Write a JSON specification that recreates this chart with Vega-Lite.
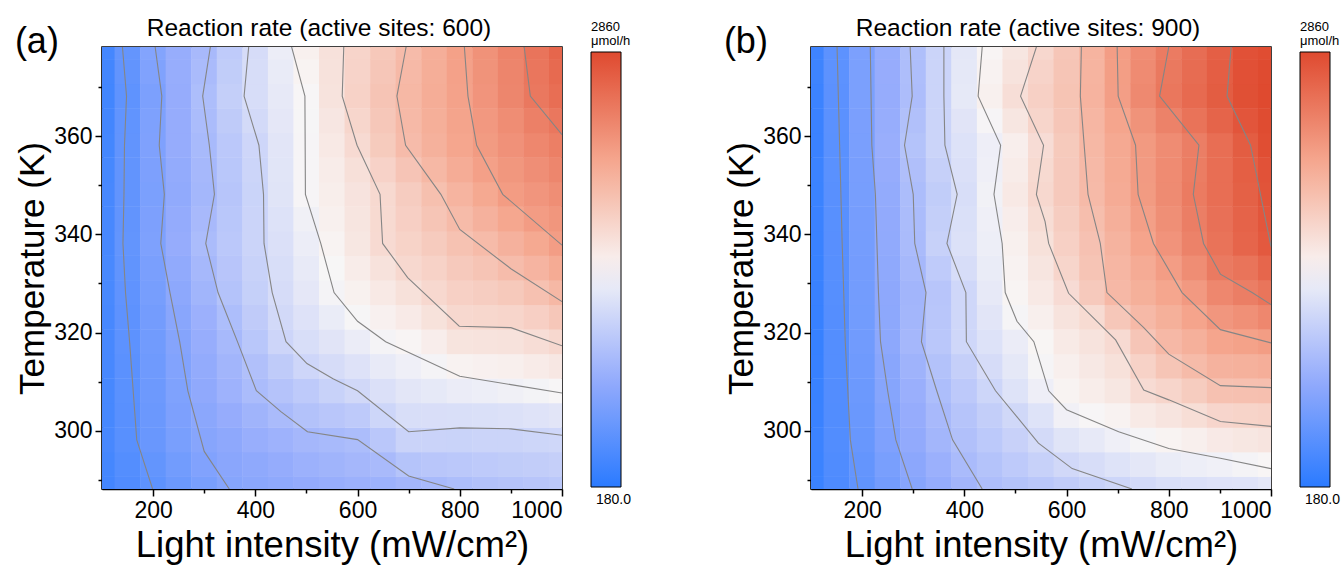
{
  "$schema": "https://vega.github.io/schema/vega-lite/v6.json",
  "padding": {"left": 14, "top": 14, "right": 0, "bottom": 0},
  "background": "white",
  "datasets": {
    "gridA": [
      {"x":100,"T":288.15,"r":335},{"x":100,"T":293.15,"r":344},{"x":100,"T":298.15,"r":361},{"x":100,"T":303.15,"r":355},{"x":100,"T":308.15,"r":357},{"x":100,"T":313.15,"r":360},{"x":100,"T":318.15,"r":362},{"x":100,"T":323.15,"r":364},{"x":100,"T":328.15,"r":368},{"x":100,"T":333.15,"r":365},{"x":100,"T":338.15,"r":361},{"x":100,"T":343.15,"r":362},{"x":100,"T":348.15,"r":364},{"x":100,"T":353.15,"r":352},{"x":100,"T":358.15,"r":338},{"x":100,"T":363.15,"r":331},{"x":100,"T":368.15,"r":326},{"x":100,"T":373.15,"r":333},{"x":100,"T":378.15,"r":344},
      {"x":150,"T":288.15,"r":418},{"x":150,"T":293.15,"r":437},{"x":150,"T":298.15,"r":463},{"x":150,"T":303.15,"r":467},{"x":150,"T":308.15,"r":474},{"x":150,"T":313.15,"r":482},{"x":150,"T":318.15,"r":490},{"x":150,"T":323.15,"r":500},{"x":150,"T":328.15,"r":511},{"x":150,"T":333.15,"r":520},{"x":150,"T":338.15,"r":530},{"x":150,"T":343.15,"r":526},{"x":150,"T":348.15,"r":522},{"x":150,"T":353.15,"r":522},{"x":150,"T":358.15,"r":522},{"x":150,"T":363.15,"r":515},{"x":150,"T":368.15,"r":507},{"x":150,"T":373.15,"r":523},{"x":150,"T":378.15,"r":539},
      {"x":200,"T":288.15,"r":502},{"x":200,"T":293.15,"r":531},{"x":200,"T":298.15,"r":566},{"x":200,"T":303.15,"r":580},{"x":200,"T":308.15,"r":591},{"x":200,"T":313.15,"r":604},{"x":200,"T":318.15,"r":617},{"x":200,"T":323.15,"r":636},{"x":200,"T":328.15,"r":655},{"x":200,"T":333.15,"r":675},{"x":200,"T":338.15,"r":699},{"x":200,"T":343.15,"r":691},{"x":200,"T":348.15,"r":680},{"x":200,"T":353.15,"r":692},{"x":200,"T":358.15,"r":706},{"x":200,"T":363.15,"r":699},{"x":200,"T":368.15,"r":688},{"x":200,"T":373.15,"r":712},{"x":200,"T":378.15,"r":734},
      {"x":250,"T":288.15,"r":585},{"x":250,"T":293.15,"r":625},{"x":250,"T":298.15,"r":668},{"x":250,"T":303.15,"r":692},{"x":250,"T":308.15,"r":708},{"x":250,"T":313.15,"r":726},{"x":250,"T":318.15,"r":745},{"x":250,"T":323.15,"r":769},{"x":250,"T":328.15,"r":795},{"x":250,"T":333.15,"r":821},{"x":250,"T":338.15,"r":849},{"x":250,"T":343.15,"r":836},{"x":250,"T":348.15,"r":821},{"x":250,"T":353.15,"r":834},{"x":250,"T":358.15,"r":847},{"x":250,"T":363.15,"r":851},{"x":250,"T":368.15,"r":853},{"x":250,"T":373.15,"r":856},{"x":250,"T":378.15,"r":856},
      {"x":300,"T":288.15,"r":668},{"x":300,"T":293.15,"r":718},{"x":300,"T":298.15,"r":758},{"x":300,"T":303.15,"r":783},{"x":300,"T":308.15,"r":810},{"x":300,"T":313.15,"r":831},{"x":300,"T":318.15,"r":856},{"x":300,"T":323.15,"r":889},{"x":300,"T":328.15,"r":928},{"x":300,"T":333.15,"r":959},{"x":300,"T":338.15,"r":991},{"x":300,"T":343.15,"r":970},{"x":300,"T":348.15,"r":949},{"x":300,"T":353.15,"r":962},{"x":300,"T":358.15,"r":974},{"x":300,"T":363.15,"r":992},{"x":300,"T":368.15,"r":1009},{"x":300,"T":373.15,"r":989},{"x":300,"T":378.15,"r":972},
      {"x":350,"T":288.15,"r":751},{"x":350,"T":293.15,"r":774},{"x":350,"T":298.15,"r":798},{"x":350,"T":303.15,"r":851},{"x":350,"T":308.15,"r":903},{"x":350,"T":313.15,"r":933},{"x":350,"T":318.15,"r":967},{"x":350,"T":323.15,"r":1010},{"x":350,"T":328.15,"r":1054},{"x":350,"T":333.15,"r":1080},{"x":350,"T":338.15,"r":1103},{"x":350,"T":343.15,"r":1092},{"x":350,"T":348.15,"r":1078},{"x":350,"T":353.15,"r":1091},{"x":350,"T":358.15,"r":1103},{"x":350,"T":363.15,"r":1132},{"x":350,"T":368.15,"r":1164},{"x":350,"T":373.15,"r":1147},{"x":350,"T":378.15,"r":1127},
      {"x":400,"T":288.15,"r":779},{"x":400,"T":293.15,"r":809},{"x":400,"T":298.15,"r":865},{"x":400,"T":303.15,"r":919},{"x":400,"T":308.15,"r":996},{"x":400,"T":313.15,"r":1033},{"x":400,"T":318.15,"r":1092},{"x":400,"T":323.15,"r":1135},{"x":400,"T":328.15,"r":1172},{"x":400,"T":333.15,"r":1193},{"x":400,"T":338.15,"r":1213},{"x":400,"T":343.15,"r":1211},{"x":400,"T":348.15,"r":1208},{"x":400,"T":353.15,"r":1221},{"x":400,"T":358.15,"r":1232},{"x":400,"T":363.15,"r":1269},{"x":400,"T":368.15,"r":1296},{"x":400,"T":373.15,"r":1294},{"x":400,"T":378.15,"r":1289},
      {"x":450,"T":288.15,"r":807},{"x":450,"T":293.15,"r":845},{"x":450,"T":298.15,"r":905},{"x":450,"T":303.15,"r":987},{"x":450,"T":308.15,"r":1061},{"x":450,"T":313.15,"r":1132},{"x":450,"T":318.15,"r":1224},{"x":450,"T":323.15,"r":1257},{"x":450,"T":328.15,"r":1285},{"x":450,"T":333.15,"r":1304},{"x":450,"T":338.15,"r":1324},{"x":450,"T":343.15,"r":1337},{"x":450,"T":348.15,"r":1354},{"x":450,"T":353.15,"r":1362},{"x":450,"T":358.15,"r":1369},{"x":450,"T":363.15,"r":1388},{"x":450,"T":368.15,"r":1401},{"x":450,"T":373.15,"r":1417},{"x":450,"T":378.15,"r":1437},
      {"x":500,"T":288.15,"r":836},{"x":500,"T":293.15,"r":893},{"x":500,"T":298.15,"r":950},{"x":500,"T":303.15,"r":1051},{"x":500,"T":308.15,"r":1124},{"x":500,"T":313.15,"r":1230},{"x":500,"T":318.15,"r":1301},{"x":500,"T":323.15,"r":1342},{"x":500,"T":328.15,"r":1388},{"x":500,"T":333.15,"r":1412},{"x":500,"T":338.15,"r":1437},{"x":500,"T":343.15,"r":1466},{"x":500,"T":348.15,"r":1503},{"x":500,"T":353.15,"r":1505},{"x":500,"T":358.15,"r":1506},{"x":500,"T":363.15,"r":1509},{"x":500,"T":368.15,"r":1510},{"x":500,"T":373.15,"r":1546},{"x":500,"T":378.15,"r":1571},
      {"x":550,"T":288.15,"r":864},{"x":550,"T":293.15,"r":920},{"x":550,"T":298.15,"r":975},{"x":550,"T":303.15,"r":1089},{"x":550,"T":308.15,"r":1192},{"x":550,"T":313.15,"r":1288},{"x":550,"T":318.15,"r":1360},{"x":550,"T":323.15,"r":1426},{"x":550,"T":328.15,"r":1495},{"x":550,"T":333.15,"r":1516},{"x":550,"T":338.15,"r":1545},{"x":550,"T":343.15,"r":1570},{"x":550,"T":348.15,"r":1589},{"x":550,"T":353.15,"r":1606},{"x":550,"T":358.15,"r":1629},{"x":550,"T":363.15,"r":1651},{"x":550,"T":368.15,"r":1681},{"x":550,"T":373.15,"r":1690},{"x":550,"T":378.15,"r":1694},
      {"x":600,"T":288.15,"r":893},{"x":600,"T":293.15,"r":952},{"x":600,"T":298.15,"r":1000},{"x":600,"T":303.15,"r":1124},{"x":600,"T":308.15,"r":1250},{"x":600,"T":313.15,"r":1340},{"x":600,"T":318.15,"r":1428},{"x":600,"T":323.15,"r":1507},{"x":600,"T":328.15,"r":1566},{"x":600,"T":333.15,"r":1603},{"x":600,"T":338.15,"r":1649},{"x":600,"T":343.15,"r":1664},{"x":600,"T":348.15,"r":1675},{"x":600,"T":353.15,"r":1707},{"x":600,"T":358.15,"r":1752},{"x":600,"T":363.15,"r":1788},{"x":600,"T":368.15,"r":1820},{"x":600,"T":373.15,"r":1813},{"x":600,"T":378.15,"r":1805},
      {"x":650,"T":288.15,"r":900},{"x":650,"T":293.15,"r":980},{"x":650,"T":298.15,"r":1096},{"x":650,"T":303.15,"r":1228},{"x":650,"T":308.15,"r":1322},{"x":650,"T":313.15,"r":1408},{"x":650,"T":318.15,"r":1494},{"x":650,"T":323.15,"r":1568},{"x":650,"T":328.15,"r":1630},{"x":650,"T":333.15,"r":1690},{"x":650,"T":338.15,"r":1751},{"x":650,"T":343.15,"r":1757},{"x":650,"T":348.15,"r":1763},{"x":650,"T":353.15,"r":1818},{"x":650,"T":358.15,"r":1884},{"x":650,"T":363.15,"r":1913},{"x":650,"T":368.15,"r":1937},{"x":650,"T":373.15,"r":1922},{"x":650,"T":378.15,"r":1908},
      {"x":700,"T":288.15,"r":945},{"x":700,"T":293.15,"r":1065},{"x":700,"T":298.15,"r":1204},{"x":700,"T":303.15,"r":1302},{"x":700,"T":308.15,"r":1379},{"x":700,"T":313.15,"r":1456},{"x":700,"T":318.15,"r":1535},{"x":700,"T":323.15,"r":1618},{"x":700,"T":328.15,"r":1700},{"x":700,"T":333.15,"r":1769},{"x":700,"T":338.15,"r":1817},{"x":700,"T":343.15,"r":1844},{"x":700,"T":348.15,"r":1868},{"x":700,"T":353.15,"r":1935},{"x":700,"T":358.15,"r":2010},{"x":700,"T":363.15,"r":2027},{"x":700,"T":368.15,"r":2041},{"x":700,"T":373.15,"r":2028},{"x":700,"T":378.15,"r":2011},
      {"x":750,"T":288.15,"r":975},{"x":750,"T":293.15,"r":1088},{"x":750,"T":298.15,"r":1203},{"x":750,"T":303.15,"r":1305},{"x":750,"T":308.15,"r":1399},{"x":750,"T":313.15,"r":1493},{"x":750,"T":318.15,"r":1592},{"x":750,"T":323.15,"r":1691},{"x":750,"T":328.15,"r":1771},{"x":750,"T":333.15,"r":1824},{"x":750,"T":338.15,"r":1880},{"x":750,"T":343.15,"r":1930},{"x":750,"T":348.15,"r":1975},{"x":750,"T":353.15,"r":2042},{"x":750,"T":358.15,"r":2101},{"x":750,"T":363.15,"r":2117},{"x":750,"T":368.15,"r":2131},{"x":750,"T":373.15,"r":2127},{"x":750,"T":378.15,"r":2121},
      {"x":800,"T":288.15,"r":1010},{"x":800,"T":293.15,"r":1105},{"x":800,"T":298.15,"r":1200},{"x":800,"T":303.15,"r":1311},{"x":800,"T":308.15,"r":1430},{"x":800,"T":313.15,"r":1550},{"x":800,"T":318.15,"r":1673},{"x":800,"T":323.15,"r":1773},{"x":800,"T":328.15,"r":1835},{"x":800,"T":333.15,"r":1893},{"x":800,"T":338.15,"r":1958},{"x":800,"T":343.15,"r":2018},{"x":800,"T":348.15,"r":2076},{"x":800,"T":353.15,"r":2138},{"x":800,"T":358.15,"r":2191},{"x":800,"T":363.15,"r":2207},{"x":800,"T":368.15,"r":2221},{"x":800,"T":373.15,"r":2226},{"x":800,"T":378.15,"r":2230},
      {"x":850,"T":288.15,"r":1040},{"x":850,"T":293.15,"r":1125},{"x":850,"T":298.15,"r":1210},{"x":850,"T":303.15,"r":1318},{"x":850,"T":308.15,"r":1446},{"x":850,"T":313.15,"r":1567},{"x":850,"T":318.15,"r":1681},{"x":850,"T":323.15,"r":1782},{"x":850,"T":328.15,"r":1860},{"x":850,"T":333.15,"r":1939},{"x":850,"T":338.15,"r":2016},{"x":850,"T":343.15,"r":2094},{"x":850,"T":348.15,"r":2168},{"x":850,"T":353.15,"r":2231},{"x":850,"T":358.15,"r":2273},{"x":850,"T":363.15,"r":2292},{"x":850,"T":368.15,"r":2320},{"x":850,"T":373.15,"r":2329},{"x":850,"T":378.15,"r":2338},
      {"x":900,"T":288.15,"r":1060},{"x":900,"T":293.15,"r":1138},{"x":900,"T":298.15,"r":1215},{"x":900,"T":303.15,"r":1326},{"x":900,"T":308.15,"r":1465},{"x":900,"T":313.15,"r":1581},{"x":900,"T":318.15,"r":1689},{"x":900,"T":323.15,"r":1795},{"x":900,"T":328.15,"r":1899},{"x":900,"T":333.15,"r":2003},{"x":900,"T":338.15,"r":2094},{"x":900,"T":343.15,"r":2185},{"x":900,"T":348.15,"r":2266},{"x":900,"T":353.15,"r":2301},{"x":900,"T":358.15,"r":2341},{"x":900,"T":363.15,"r":2374},{"x":900,"T":368.15,"r":2422},{"x":900,"T":373.15,"r":2433},{"x":900,"T":378.15,"r":2444},
      {"x":950,"T":288.15,"r":1080},{"x":950,"T":293.15,"r":1153},{"x":950,"T":298.15,"r":1227},{"x":950,"T":303.15,"r":1347},{"x":950,"T":308.15,"r":1489},{"x":950,"T":313.15,"r":1608},{"x":950,"T":318.15,"r":1726},{"x":950,"T":323.15,"r":1845},{"x":950,"T":328.15,"r":1964},{"x":950,"T":333.15,"r":2070},{"x":950,"T":338.15,"r":2169},{"x":950,"T":343.15,"r":2260},{"x":950,"T":348.15,"r":2311},{"x":950,"T":353.15,"r":2362},{"x":950,"T":358.15,"r":2413},{"x":950,"T":363.15,"r":2465},{"x":950,"T":368.15,"r":2525},{"x":950,"T":373.15,"r":2538},{"x":950,"T":378.15,"r":2551},
      {"x":1000,"T":288.15,"r":1100},{"x":1000,"T":293.15,"r":1168},{"x":1000,"T":298.15,"r":1237},{"x":1000,"T":303.15,"r":1368},{"x":1000,"T":308.15,"r":1512},{"x":1000,"T":313.15,"r":1642},{"x":1000,"T":318.15,"r":1774},{"x":1000,"T":323.15,"r":1912},{"x":1000,"T":328.15,"r":2040},{"x":1000,"T":333.15,"r":2149},{"x":1000,"T":338.15,"r":2254},{"x":1000,"T":343.15,"r":2309},{"x":1000,"T":348.15,"r":2365},{"x":1000,"T":353.15,"r":2421},{"x":1000,"T":358.15,"r":2476},{"x":1000,"T":363.15,"r":2530},{"x":1000,"T":368.15,"r":2600},{"x":1000,"T":373.15,"r":2630},{"x":1000,"T":378.15,"r":2658}
    ],
    "gridB": [
      {"x":100,"T":288.15,"r":283},{"x":100,"T":293.15,"r":283},{"x":100,"T":298.15,"r":284},{"x":100,"T":303.15,"r":277},{"x":100,"T":308.15,"r":269},{"x":100,"T":313.15,"r":264},{"x":100,"T":318.15,"r":257},{"x":100,"T":323.15,"r":261},{"x":100,"T":328.15,"r":265},{"x":100,"T":333.15,"r":270},{"x":100,"T":338.15,"r":276},{"x":100,"T":343.15,"r":279},{"x":100,"T":348.15,"r":283},{"x":100,"T":353.15,"r":286},{"x":100,"T":358.15,"r":278},{"x":100,"T":363.15,"r":282},{"x":100,"T":368.15,"r":287},{"x":100,"T":373.15,"r":297},{"x":100,"T":378.15,"r":304},
      {"x":150,"T":288.15,"r":401},{"x":150,"T":293.15,"r":412},{"x":150,"T":298.15,"r":424},{"x":150,"T":303.15,"r":427},{"x":150,"T":308.15,"r":429},{"x":150,"T":313.15,"r":434},{"x":150,"T":318.15,"r":438},{"x":150,"T":323.15,"r":443},{"x":150,"T":328.15,"r":449},{"x":150,"T":333.15,"r":454},{"x":150,"T":338.15,"r":460},{"x":150,"T":343.15,"r":464},{"x":150,"T":348.15,"r":469},{"x":150,"T":353.15,"r":475},{"x":150,"T":358.15,"r":476},{"x":150,"T":363.15,"r":480},{"x":150,"T":368.15,"r":484},{"x":150,"T":373.15,"r":490},{"x":150,"T":378.15,"r":496},
      {"x":200,"T":288.15,"r":519},{"x":200,"T":293.15,"r":540},{"x":200,"T":298.15,"r":565},{"x":200,"T":303.15,"r":576},{"x":200,"T":308.15,"r":590},{"x":200,"T":313.15,"r":604},{"x":200,"T":318.15,"r":620},{"x":200,"T":323.15,"r":626},{"x":200,"T":328.15,"r":632},{"x":200,"T":333.15,"r":638},{"x":200,"T":338.15,"r":643},{"x":200,"T":343.15,"r":648},{"x":200,"T":348.15,"r":654},{"x":200,"T":353.15,"r":665},{"x":200,"T":358.15,"r":675},{"x":200,"T":363.15,"r":679},{"x":200,"T":368.15,"r":681},{"x":200,"T":373.15,"r":684},{"x":200,"T":378.15,"r":688},
      {"x":250,"T":288.15,"r":637},{"x":250,"T":293.15,"r":668},{"x":250,"T":298.15,"r":705},{"x":250,"T":303.15,"r":726},{"x":250,"T":308.15,"r":750},{"x":250,"T":313.15,"r":770},{"x":250,"T":318.15,"r":794},{"x":250,"T":323.15,"r":796},{"x":250,"T":328.15,"r":798},{"x":250,"T":333.15,"r":808},{"x":250,"T":338.15,"r":821},{"x":250,"T":343.15,"r":826},{"x":250,"T":348.15,"r":831},{"x":250,"T":353.15,"r":850},{"x":250,"T":358.15,"r":871},{"x":250,"T":363.15,"r":860},{"x":250,"T":368.15,"r":851},{"x":250,"T":373.15,"r":854},{"x":250,"T":378.15,"r":859},
      {"x":300,"T":288.15,"r":754},{"x":300,"T":293.15,"r":786},{"x":300,"T":298.15,"r":827},{"x":300,"T":303.15,"r":851},{"x":300,"T":308.15,"r":880},{"x":300,"T":313.15,"r":912},{"x":300,"T":318.15,"r":950},{"x":300,"T":323.15,"r":941},{"x":300,"T":328.15,"r":933},{"x":300,"T":333.15,"r":958},{"x":300,"T":338.15,"r":990},{"x":300,"T":343.15,"r":995},{"x":300,"T":348.15,"r":1000},{"x":300,"T":353.15,"r":1026},{"x":300,"T":358.15,"r":1054},{"x":300,"T":363.15,"r":1034},{"x":300,"T":368.15,"r":1008},{"x":300,"T":373.15,"r":1016},{"x":300,"T":378.15,"r":1023},
      {"x":350,"T":288.15,"r":845},{"x":350,"T":293.15,"r":887},{"x":350,"T":298.15,"r":939},{"x":350,"T":303.15,"r":972},{"x":350,"T":308.15,"r":1009},{"x":350,"T":313.15,"r":1047},{"x":350,"T":318.15,"r":1097},{"x":350,"T":323.15,"r":1089},{"x":350,"T":328.15,"r":1080},{"x":350,"T":333.15,"r":1128},{"x":350,"T":338.15,"r":1187},{"x":350,"T":343.15,"r":1163},{"x":350,"T":348.15,"r":1145},{"x":350,"T":353.15,"r":1177},{"x":350,"T":358.15,"r":1212},{"x":350,"T":363.15,"r":1211},{"x":350,"T":368.15,"r":1210},{"x":350,"T":373.15,"r":1211},{"x":350,"T":378.15,"r":1212},
      {"x":400,"T":288.15,"r":936},{"x":400,"T":293.15,"r":988},{"x":400,"T":298.15,"r":1035},{"x":400,"T":303.15,"r":1069},{"x":400,"T":308.15,"r":1117},{"x":400,"T":313.15,"r":1170},{"x":400,"T":318.15,"r":1239},{"x":400,"T":323.15,"r":1239},{"x":400,"T":328.15,"r":1240},{"x":400,"T":333.15,"r":1292},{"x":400,"T":338.15,"r":1329},{"x":400,"T":343.15,"r":1317},{"x":400,"T":348.15,"r":1299},{"x":400,"T":353.15,"r":1322},{"x":400,"T":358.15,"r":1337},{"x":400,"T":363.15,"r":1361},{"x":400,"T":368.15,"r":1399},{"x":400,"T":373.15,"r":1391},{"x":400,"T":378.15,"r":1383},
      {"x":450,"T":288.15,"r":1013},{"x":450,"T":293.15,"r":1057},{"x":450,"T":298.15,"r":1112},{"x":450,"T":303.15,"r":1159},{"x":450,"T":308.15,"r":1226},{"x":450,"T":313.15,"r":1287},{"x":450,"T":318.15,"r":1337},{"x":450,"T":323.15,"r":1370},{"x":450,"T":328.15,"r":1403},{"x":450,"T":333.15,"r":1427},{"x":450,"T":338.15,"r":1444},{"x":450,"T":343.15,"r":1456},{"x":450,"T":348.15,"r":1472},{"x":450,"T":353.15,"r":1460},{"x":450,"T":358.15,"r":1452},{"x":450,"T":363.15,"r":1503},{"x":450,"T":368.15,"r":1569},{"x":450,"T":373.15,"r":1550},{"x":450,"T":378.15,"r":1535},
      {"x":500,"T":288.15,"r":1055},{"x":500,"T":293.15,"r":1121},{"x":500,"T":298.15,"r":1189},{"x":500,"T":303.15,"r":1249},{"x":500,"T":308.15,"r":1344},{"x":500,"T":313.15,"r":1393},{"x":500,"T":318.15,"r":1432},{"x":500,"T":323.15,"r":1500},{"x":500,"T":328.15,"r":1540},{"x":500,"T":333.15,"r":1554},{"x":500,"T":338.15,"r":1571},{"x":500,"T":343.15,"r":1594},{"x":500,"T":348.15,"r":1627},{"x":500,"T":353.15,"r":1606},{"x":500,"T":358.15,"r":1586},{"x":500,"T":363.15,"r":1653},{"x":500,"T":368.15,"r":1720},{"x":500,"T":373.15,"r":1683},{"x":500,"T":378.15,"r":1653},
      {"x":550,"T":288.15,"r":1098},{"x":550,"T":293.15,"r":1186},{"x":550,"T":298.15,"r":1266},{"x":550,"T":303.15,"r":1345},{"x":550,"T":308.15,"r":1450},{"x":550,"T":313.15,"r":1499},{"x":550,"T":318.15,"r":1530},{"x":550,"T":323.15,"r":1580},{"x":550,"T":328.15,"r":1628},{"x":550,"T":333.15,"r":1663},{"x":550,"T":338.15,"r":1700},{"x":550,"T":343.15,"r":1733},{"x":550,"T":348.15,"r":1772},{"x":550,"T":353.15,"r":1756},{"x":550,"T":358.15,"r":1735},{"x":550,"T":363.15,"r":1794},{"x":550,"T":368.15,"r":1835},{"x":550,"T":373.15,"r":1810},{"x":550,"T":378.15,"r":1776},
      {"x":600,"T":288.15,"r":1141},{"x":600,"T":293.15,"r":1250},{"x":600,"T":298.15,"r":1355},{"x":600,"T":303.15,"r":1470},{"x":600,"T":308.15,"r":1543},{"x":600,"T":313.15,"r":1581},{"x":600,"T":318.15,"r":1620},{"x":600,"T":323.15,"r":1680},{"x":600,"T":328.15,"r":1742},{"x":600,"T":333.15,"r":1795},{"x":600,"T":338.15,"r":1837},{"x":600,"T":343.15,"r":1862},{"x":600,"T":348.15,"r":1896},{"x":600,"T":353.15,"r":1894},{"x":600,"T":358.15,"r":1892},{"x":600,"T":363.15,"r":1921},{"x":600,"T":368.15,"r":1942},{"x":600,"T":373.15,"r":1932},{"x":600,"T":378.15,"r":1918},
      {"x":650,"T":288.15,"r":1185},{"x":650,"T":293.15,"r":1295},{"x":650,"T":298.15,"r":1405},{"x":650,"T":303.15,"r":1515},{"x":650,"T":308.15,"r":1595},{"x":650,"T":313.15,"r":1637},{"x":650,"T":318.15,"r":1682},{"x":650,"T":323.15,"r":1749},{"x":650,"T":328.15,"r":1895},{"x":650,"T":333.15,"r":1936},{"x":650,"T":338.15,"r":1960},{"x":650,"T":343.15,"r":1990},{"x":650,"T":348.15,"r":2020},{"x":650,"T":353.15,"r":2030},{"x":650,"T":358.15,"r":2039},{"x":650,"T":363.15,"r":2055},{"x":650,"T":368.15,"r":2078},{"x":650,"T":373.15,"r":2076},{"x":650,"T":378.15,"r":2075},
      {"x":700,"T":288.15,"r":1228},{"x":700,"T":293.15,"r":1344},{"x":700,"T":298.15,"r":1459},{"x":700,"T":303.15,"r":1552},{"x":700,"T":308.15,"r":1648},{"x":700,"T":313.15,"r":1700},{"x":700,"T":318.15,"r":1752},{"x":700,"T":323.15,"r":1911},{"x":700,"T":328.15,"r":2036},{"x":700,"T":333.15,"r":2055},{"x":700,"T":338.15,"r":2082},{"x":700,"T":343.15,"r":2114},{"x":700,"T":348.15,"r":2148},{"x":700,"T":353.15,"r":2156},{"x":700,"T":358.15,"r":2163},{"x":700,"T":363.15,"r":2198},{"x":700,"T":368.15,"r":2247},{"x":700,"T":373.15,"r":2250},{"x":700,"T":378.15,"r":2252},
      {"x":750,"T":288.15,"r":1265},{"x":750,"T":293.15,"r":1383},{"x":750,"T":298.15,"r":1498},{"x":750,"T":303.15,"r":1621},{"x":750,"T":308.15,"r":1748},{"x":750,"T":313.15,"r":1824},{"x":750,"T":318.15,"r":1927},{"x":750,"T":323.15,"r":2028},{"x":750,"T":328.15,"r":2110},{"x":750,"T":333.15,"r":2145},{"x":750,"T":338.15,"r":2202},{"x":750,"T":343.15,"r":2238},{"x":750,"T":348.15,"r":2273},{"x":750,"T":353.15,"r":2277},{"x":750,"T":358.15,"r":2280},{"x":750,"T":363.15,"r":2328},{"x":750,"T":368.15,"r":2401},{"x":750,"T":373.15,"r":2387},{"x":750,"T":378.15,"r":2376},
      {"x":800,"T":288.15,"r":1310},{"x":800,"T":293.15,"r":1425},{"x":800,"T":298.15,"r":1544},{"x":800,"T":303.15,"r":1670},{"x":800,"T":308.15,"r":1800},{"x":800,"T":313.15,"r":1934},{"x":800,"T":318.15,"r":2037},{"x":800,"T":323.15,"r":2110},{"x":800,"T":328.15,"r":2190},{"x":800,"T":333.15,"r":2252},{"x":800,"T":338.15,"r":2327},{"x":800,"T":343.15,"r":2359},{"x":800,"T":348.15,"r":2389},{"x":800,"T":353.15,"r":2385},{"x":800,"T":358.15,"r":2381},{"x":800,"T":363.15,"r":2450},{"x":800,"T":368.15,"r":2534},{"x":800,"T":373.15,"r":2518},{"x":800,"T":378.15,"r":2500},
      {"x":850,"T":288.15,"r":1325},{"x":850,"T":293.15,"r":1444},{"x":850,"T":298.15,"r":1579},{"x":850,"T":303.15,"r":1723},{"x":850,"T":308.15,"r":1872},{"x":850,"T":313.15,"r":2014},{"x":850,"T":318.15,"r":2108},{"x":850,"T":323.15,"r":2202},{"x":850,"T":328.15,"r":2285},{"x":850,"T":333.15,"r":2370},{"x":850,"T":338.15,"r":2454},{"x":850,"T":343.15,"r":2481},{"x":850,"T":348.15,"r":2504},{"x":850,"T":353.15,"r":2492},{"x":850,"T":358.15,"r":2482},{"x":850,"T":363.15,"r":2563},{"x":850,"T":368.15,"r":2629},{"x":850,"T":373.15,"r":2616},{"x":850,"T":378.15,"r":2602},
      {"x":900,"T":288.15,"r":1340},{"x":900,"T":293.15,"r":1463},{"x":900,"T":298.15,"r":1625},{"x":900,"T":303.15,"r":1793},{"x":900,"T":308.15,"r":1964},{"x":900,"T":313.15,"r":2087},{"x":900,"T":318.15,"r":2196},{"x":900,"T":323.15,"r":2306},{"x":900,"T":328.15,"r":2417},{"x":900,"T":333.15,"r":2510},{"x":900,"T":338.15,"r":2563},{"x":900,"T":343.15,"r":2581},{"x":900,"T":348.15,"r":2600},{"x":900,"T":353.15,"r":2601},{"x":900,"T":358.15,"r":2601},{"x":900,"T":363.15,"r":2671},{"x":900,"T":368.15,"r":2723},{"x":900,"T":373.15,"r":2715},{"x":900,"T":378.15,"r":2705},
      {"x":950,"T":288.15,"r":1350},{"x":950,"T":293.15,"r":1492},{"x":950,"T":298.15,"r":1648},{"x":950,"T":303.15,"r":1808},{"x":950,"T":308.15,"r":1972},{"x":950,"T":313.15,"r":2101},{"x":950,"T":318.15,"r":2222},{"x":950,"T":323.15,"r":2350},{"x":950,"T":328.15,"r":2480},{"x":950,"T":333.15,"r":2555},{"x":950,"T":338.15,"r":2660},{"x":950,"T":343.15,"r":2678},{"x":950,"T":348.15,"r":2696},{"x":950,"T":353.15,"r":2709},{"x":950,"T":358.15,"r":2725},{"x":950,"T":363.15,"r":2778},{"x":950,"T":368.15,"r":2818},{"x":950,"T":373.15,"r":2813},{"x":950,"T":378.15,"r":2807},
      {"x":1000,"T":288.15,"r":1380},{"x":1000,"T":293.15,"r":1525},{"x":1000,"T":298.15,"r":1670},{"x":1000,"T":303.15,"r":1821},{"x":1000,"T":308.15,"r":1979},{"x":1000,"T":313.15,"r":2120},{"x":1000,"T":318.15,"r":2258},{"x":1000,"T":323.15,"r":2418},{"x":1000,"T":328.15,"r":2550},{"x":1000,"T":333.15,"r":2653},{"x":1000,"T":338.15,"r":2750},{"x":1000,"T":343.15,"r":2770},{"x":1000,"T":348.15,"r":2790},{"x":1000,"T":353.15,"r":2800},{"x":1000,"T":358.15,"r":2830},{"x":1000,"T":363.15,"r":2845},{"x":1000,"T":368.15,"r":2860},{"x":1000,"T":373.15,"r":2850},{"x":1000,"T":378.15,"r":2840}
    ],
    "contA": [
      {"lv":500,"i":0,"x":140,"T":378.15},{"lv":500,"i":1,"x":148,"T":368.15},{"lv":500,"i":2,"x":144,"T":358.15},{"lv":500,"i":3,"x":143,"T":348.15},{"lv":500,"i":4,"x":141,"T":338.15},{"lv":500,"i":5,"x":146,"T":328.15},{"lv":500,"i":6,"x":154,"T":318.15},{"lv":500,"i":7,"x":161,"T":308.15},{"lv":500,"i":8,"x":168,"T":298.15},{"lv":500,"i":9,"x":199,"T":288.15},
      {"lv":750,"i":0,"x":204,"T":378.15},{"lv":750,"i":1,"x":217,"T":368.15},{"lv":750,"i":2,"x":212,"T":358.15},{"lv":750,"i":3,"x":222,"T":348.15},{"lv":750,"i":4,"x":215,"T":338.15},{"lv":750,"i":5,"x":233,"T":328.15},{"lv":750,"i":6,"x":252,"T":318.15},{"lv":750,"i":7,"x":268,"T":308.15},{"lv":750,"i":8,"x":300,"T":295.8},{"lv":750,"i":9,"x":349,"T":288.15},
      {"lv":1000,"i":0,"x":312,"T":378.15},{"lv":1000,"i":1,"x":297,"T":368.15},{"lv":1000,"i":2,"x":310,"T":358.15},{"lv":1000,"i":3,"x":320,"T":348.15},{"lv":1000,"i":4,"x":303,"T":338.15},{"lv":1000,"i":5,"x":327,"T":328.15},{"lv":1000,"i":6,"x":365,"T":318.15},{"lv":1000,"i":7,"x":402,"T":308.15},{"lv":1000,"i":8,"x":450,"T":303.9},{"lv":1000,"i":9,"x":502,"T":299.8},{"lv":1000,"i":10,"x":600,"T":298.2},{"lv":1000,"i":11,"x":700,"T":290.8},{"lv":1000,"i":12,"x":789,"T":288.15},
      {"lv":1250,"i":0,"x":387,"T":378.15},{"lv":1250,"i":1,"x":378,"T":368.15},{"lv":1250,"i":2,"x":407,"T":358.15},{"lv":1250,"i":3,"x":416,"T":348.15},{"lv":1250,"i":4,"x":417,"T":338.15},{"lv":1250,"i":5,"x":433,"T":328.15},{"lv":1250,"i":6,"x":460,"T":318.15},{"lv":1250,"i":7,"x":501,"T":313.7},{"lv":1250,"i":8,"x":552,"T":310.6},{"lv":1250,"i":9,"x":600,"T":308.15},{"lv":1250,"i":10,"x":700,"T":299.8},{"lv":1250,"i":11,"x":800,"T":300.6},{"lv":1250,"i":12,"x":900,"T":300.4},{"lv":1250,"i":13,"x":1000,"T":299.1},
      {"lv":1500,"i":0,"x":471,"T":378.15},{"lv":1500,"i":1,"x":497,"T":368.15},{"lv":1500,"i":2,"x":498,"T":348.15},{"lv":1500,"i":3,"x":528,"T":338.15},{"lv":1500,"i":4,"x":554,"T":328.15},{"lv":1500,"i":5,"x":600,"T":322.3},{"lv":1500,"i":6,"x":655,"T":318.15},{"lv":1500,"i":7,"x":800,"T":311.1},{"lv":1500,"i":8,"x":900,"T":309.4},{"lv":1500,"i":9,"x":1000,"T":307.7},
      {"lv":1750,"i":0,"x":573,"T":378.15},{"lv":1750,"i":1,"x":570,"T":368.15},{"lv":1750,"i":2,"x":599,"T":358.15},{"lv":1750,"i":3,"x":644,"T":348.15},{"lv":1750,"i":4,"x":649,"T":338.15},{"lv":1750,"i":5,"x":698,"T":331.2},{"lv":1750,"i":6,"x":799,"T":321.3},{"lv":1750,"i":7,"x":900,"T":321.0},{"lv":1750,"i":8,"x":1000,"T":317.3},
      {"lv":2000,"i":0,"x":695,"T":378.15},{"lv":2000,"i":1,"x":677,"T":368.15},{"lv":2000,"i":2,"x":694,"T":358.15},{"lv":2000,"i":3,"x":763,"T":348.15},{"lv":2000,"i":4,"x":800,"T":341},{"lv":2000,"i":5,"x":900,"T":333},{"lv":2000,"i":6,"x":1000,"T":326.3},
      {"lv":2250,"i":0,"x":809,"T":378.15},{"lv":2250,"i":1,"x":816,"T":368.15},{"lv":2250,"i":2,"x":833,"T":358.15},{"lv":2250,"i":3,"x":884,"T":348.15},{"lv":2250,"i":4,"x":1000,"T":337.8},
      {"lv":2500,"i":0,"x":926,"T":378.15},{"lv":2500,"i":1,"x":938,"T":368.15},{"lv":2500,"i":2,"x":1000,"T":360.3}
    ],
    "contB": [
      {"lv":500,"i":0,"x":151,"T":378.15},{"lv":500,"i":1,"x":156,"T":358.15},{"lv":500,"i":2,"x":161,"T":338.15},{"lv":500,"i":3,"x":167,"T":318.15},{"lv":500,"i":4,"x":177,"T":298.15},{"lv":500,"i":5,"x":192,"T":288.15},
      {"lv":750,"i":0,"x":216,"T":378.15},{"lv":750,"i":1,"x":219,"T":358.15},{"lv":750,"i":2,"x":226,"T":348.15},{"lv":750,"i":3,"x":232,"T":328.15},{"lv":750,"i":4,"x":236,"T":318.15},{"lv":750,"i":5,"x":250,"T":308.15},{"lv":750,"i":6,"x":266,"T":298.15},{"lv":750,"i":7,"x":298,"T":288.15},
      {"lv":1000,"i":0,"x":294,"T":378.15},{"lv":1000,"i":1,"x":298,"T":368.15},{"lv":1000,"i":2,"x":283,"T":358.15},{"lv":1000,"i":3,"x":300,"T":348.15},{"lv":1000,"i":4,"x":303,"T":338.15},{"lv":1000,"i":5,"x":325,"T":328.15},{"lv":1000,"i":6,"x":316,"T":318.15},{"lv":1000,"i":7,"x":346,"T":308.15},{"lv":1000,"i":8,"x":377,"T":298.15},{"lv":1000,"i":9,"x":435,"T":288.15},
      {"lv":1250,"i":0,"x":360,"T":378.15},{"lv":1250,"i":1,"x":360,"T":368.15},{"lv":1250,"i":2,"x":362,"T":358.15},{"lv":1250,"i":3,"x":386,"T":348.15},{"lv":1250,"i":4,"x":366,"T":338.15},{"lv":1250,"i":5,"x":403,"T":328.15},{"lv":1250,"i":6,"x":404,"T":318.15},{"lv":1250,"i":7,"x":461,"T":308.15},{"lv":1250,"i":8,"x":545,"T":297.5},{"lv":1250,"i":9,"x":611,"T":292.3},{"lv":1250,"i":10,"x":728,"T":288.15},
      {"lv":1500,"i":0,"x":435,"T":378.15},{"lv":1500,"i":1,"x":427,"T":368.15},{"lv":1500,"i":2,"x":471,"T":358.15},{"lv":1500,"i":3,"x":458,"T":348.15},{"lv":1500,"i":4,"x":474,"T":338.15},{"lv":1500,"i":5,"x":480,"T":328.15},{"lv":1500,"i":6,"x":503,"T":322.3},{"lv":1500,"i":7,"x":536,"T":318.15},{"lv":1500,"i":8,"x":565,"T":308.15},{"lv":1500,"i":9,"x":600,"T":304.3},{"lv":1500,"i":10,"x":702,"T":299.8},{"lv":1500,"i":11,"x":800,"T":296.4},{"lv":1500,"i":12,"x":901,"T":294.4},{"lv":1500,"i":13,"x":1000,"T":292.3},
      {"lv":1750,"i":0,"x":541,"T":378.15},{"lv":1750,"i":1,"x":510,"T":368.15},{"lv":1750,"i":2,"x":555,"T":358.15},{"lv":1750,"i":3,"x":541,"T":348.15},{"lv":1750,"i":4,"x":558,"T":342.6},{"lv":1750,"i":5,"x":565,"T":338.15},{"lv":1750,"i":6,"x":604,"T":328},{"lv":1750,"i":7,"x":696,"T":318.5},{"lv":1750,"i":8,"x":751,"T":308.3},{"lv":1750,"i":9,"x":800,"T":306.3},{"lv":1750,"i":10,"x":901,"T":301.9},{"lv":1750,"i":11,"x":1000,"T":300.9},
      {"lv":2000,"i":0,"x":629,"T":378.15},{"lv":2000,"i":1,"x":627,"T":368.15},{"lv":2000,"i":2,"x":642,"T":348.15},{"lv":2000,"i":3,"x":666,"T":338.15},{"lv":2000,"i":4,"x":679,"T":328.15},{"lv":2000,"i":5,"x":751,"T":321},{"lv":2000,"i":6,"x":800,"T":315.6},{"lv":2000,"i":7,"x":901,"T":309.2},{"lv":2000,"i":8,"x":1000,"T":308.8},
      {"lv":2250,"i":0,"x":699,"T":378.15},{"lv":2250,"i":1,"x":701,"T":368.15},{"lv":2250,"i":2,"x":735,"T":358.15},{"lv":2250,"i":3,"x":740,"T":348.15},{"lv":2250,"i":4,"x":770,"T":338.15},{"lv":2250,"i":5,"x":826,"T":328.15},{"lv":2250,"i":6,"x":901,"T":320.6},{"lv":2250,"i":7,"x":1000,"T":317.9},
      {"lv":2500,"i":0,"x":800,"T":378.15},{"lv":2500,"i":1,"x":782,"T":368.15},{"lv":2500,"i":2,"x":859,"T":358.15},{"lv":2500,"i":3,"x":848,"T":348.15},{"lv":2500,"i":4,"x":868,"T":338.15},{"lv":2500,"i":5,"x":901,"T":331.9},{"lv":2500,"i":6,"x":963,"T":328.15},{"lv":2500,"i":7,"x":1000,"T":325.7},
      {"lv":2750,"i":0,"x":922,"T":378.15},{"lv":2750,"i":1,"x":914,"T":368.15},{"lv":2750,"i":2,"x":960,"T":358.15},{"lv":2750,"i":3,"x":1000,"T":337.5}
    ]
  },
  "hconcat": [
    {
      "title": {"text": "(a)", "anchor": "start", "frame": "bounds", "fontSize": 36, "offset": -46},
      "hconcat": [
        {
          "width": 460,
          "height": 442,
          "title": {"text": "Reaction rate (active sites: 600)", "fontSize": 24.5, "offset": 6, "frame": "group", "dx": -13},
          "encoding": {
            "x": {"field": "x", "type": "quantitative", "scale": {"domain": [100, 1000], "nice": false, "zero": false},
              "axis": {"title": "Light intensity (mW/cm²)", "values": [200, 300, 400, 500, 600, 700, 800, 900, 1000], "format": "d",
                "labelExpr": "datum.value % 200 === 0 ? datum.label : ''",
                "tickSize": {"condition": {"test": "datum.value % 200 === 0", "value": 7}, "value": 4}}},
            "y": {"field": "T", "type": "quantitative", "scale": {"domain": [288.15, 378.15], "nice": false, "zero": false},
              "axis": {"title": "Temperature (K)", "values": [290, 300, 310, 320, 330, 340, 350, 360, 370], "format": "d",
                "labelExpr": "datum.value % 20 === 0 ? datum.label : ''",
                "tickSize": {"condition": {"test": "datum.value % 20 === 0", "value": 7}, "value": 4}}}
          },
          "layer": [
            {
              "data": {"name": "gridA"},
              "mark": {"type": "rect", "width": 26, "height": 25, "clip": true},
              "encoding": {
                "color": {"field": "r", "type": "quantitative",
                  "scale": {"domain": [180, 850, 1520, 2190, 2860], "range": ["#2b7bff", "#96acfc", "#f8f6f6", "#f5a68e", "#df4a2f"], "interpolate": "rgb"},
                  "legend": {"orient": "none", "legendX": 489, "legendY": -26, "title": ["2860", "μmol/h"], "values": [180], "labelExpr": "'180.0'", "labelOffset": -25,
                    "encode": {"labels": {"update": {"baseline": {"value": "top"}, "dy": {"value": 6}}}}}}
              }
            },
            {
              "data": {"name": "contA"},
              "mark": {"type": "line", "color": "#858585", "strokeWidth": 1.1, "clip": true},
              "encoding": {
                "detail": {"field": "lv", "type": "nominal"},
                "order": {"field": "i", "type": "quantitative"}
              }
            }
          ]
        }
      ]
    },
    {
      "title": {"text": "(b)", "anchor": "start", "frame": "bounds", "fontSize": 36, "offset": -46},
      "hconcat": [
        {
          "width": 460,
          "height": 442,
          "title": {"text": "Reaction rate (active sites: 900)", "fontSize": 24.5, "offset": 6, "frame": "group", "dx": -13},
          "encoding": {
            "x": {"field": "x", "type": "quantitative", "scale": {"domain": [100, 1000], "nice": false, "zero": false},
              "axis": {"title": "Light intensity (mW/cm²)", "values": [200, 300, 400, 500, 600, 700, 800, 900, 1000], "format": "d",
                "labelExpr": "datum.value % 200 === 0 ? datum.label : ''",
                "tickSize": {"condition": {"test": "datum.value % 200 === 0", "value": 7}, "value": 4}}},
            "y": {"field": "T", "type": "quantitative", "scale": {"domain": [288.15, 378.15], "nice": false, "zero": false},
              "axis": {"title": "Temperature (K)", "values": [290, 300, 310, 320, 330, 340, 350, 360, 370], "format": "d",
                "labelExpr": "datum.value % 20 === 0 ? datum.label : ''",
                "tickSize": {"condition": {"test": "datum.value % 20 === 0", "value": 7}, "value": 4}}}
          },
          "layer": [
            {
              "data": {"name": "gridB"},
              "mark": {"type": "rect", "width": 26, "height": 25, "clip": true},
              "encoding": {
                "color": {"field": "r", "type": "quantitative",
                  "scale": {"domain": [180, 850, 1520, 2190, 2860], "range": ["#2b7bff", "#96acfc", "#f8f6f6", "#f5a68e", "#df4a2f"], "interpolate": "rgb"},
                  "legend": {"orient": "none", "legendX": 489, "legendY": -26, "title": ["2860", "μmol/h"], "values": [180], "labelExpr": "'180.0'", "labelOffset": -25,
                    "encode": {"labels": {"update": {"baseline": {"value": "top"}, "dy": {"value": 6}}}}}}
              }
            },
            {
              "data": {"name": "contB"},
              "mark": {"type": "line", "color": "#858585", "strokeWidth": 1.1, "clip": true},
              "encoding": {
                "detail": {"field": "lv", "type": "nominal"},
                "order": {"field": "i", "type": "quantitative"}
              }
            }
          ]
        }
      ]
    }
  ],
  "spacing": 91,
  "resolve": {"scale": {"color": "independent"}},
  "config": {
    "font": "Liberation Sans",
    "view": {"stroke": "#000000", "strokeWidth": 1.5},
    "title": {"font": "Liberation Sans", "fontWeight": "normal", "color": "#000000"},
    "axis": {
      "labelFont": "Liberation Sans", "titleFont": "Liberation Sans", "titleFontWeight": "normal",
      "labelColor": "#000000", "titleColor": "#000000", "domainColor": "#000000", "tickColor": "#000000",
      "domainWidth": 1.5, "tickWidth": 1.5, "grid": false,
      "labelFontSize": 23, "titleFontSize": 35, "labelPadding": 3, "titlePadding": 6
    },
    "axisX": {"titleFontSize": 36.5, "titlePadding": 5},
    "axisY": {"titlePadding": 3},
    "legend": {
      "direction": "vertical", "gradientLength": 435, "gradientThickness": 30,
      "gradientStrokeColor": "#000000", "gradientStrokeWidth": 1,
      "titleFont": "Liberation Sans", "titleFontSize": 13, "titleFontWeight": "normal", "titleColor": "#000000",
      "titleLineHeight": 14, "titlePadding": 4, "titleAnchor": "start", "titleAlign": "left",
      "labelFont": "Liberation Sans", "labelFontSize": 14, "labelColor": "#000000",
      "padding": 0
    }
  }
}
